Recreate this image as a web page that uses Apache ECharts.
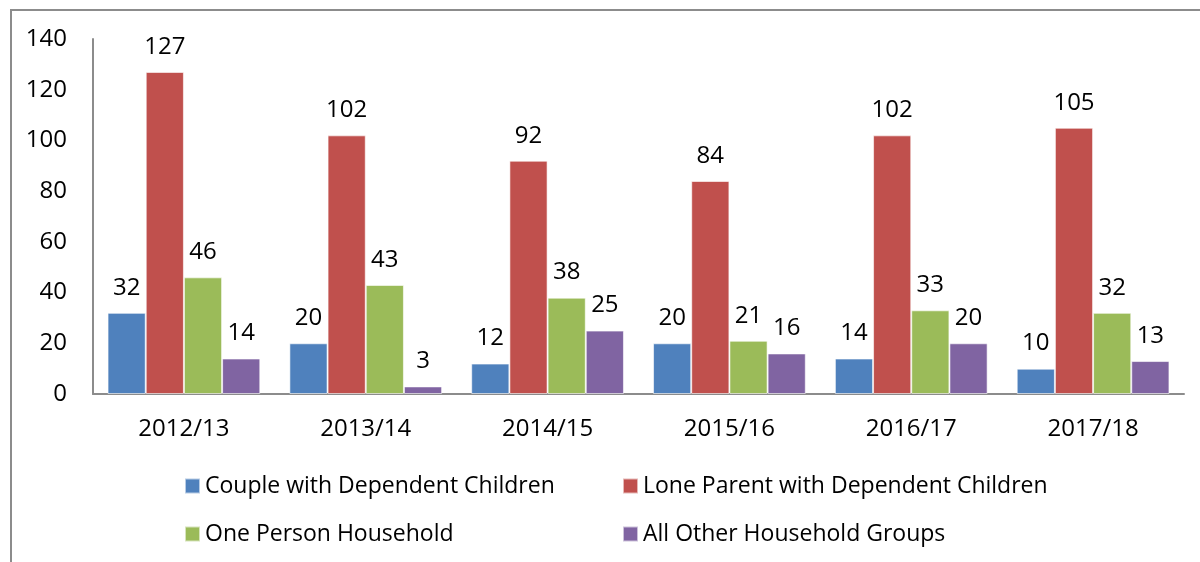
<!DOCTYPE html>
<html>
<head>
<meta charset="utf-8">
<script src="https://cdn.jsdelivr.net/npm/echarts@6/dist/echarts.min.js"></script>
<style>
html,body{margin:0;padding:0;background:#fff;overflow:hidden;}
#frame{position:absolute;left:10px;top:9px;width:1250px;height:600px;border-left:2px solid #8c8c8c;border-top:2px solid #8c8c8c;}
#chart{position:absolute;left:0;top:0;width:1200px;height:562px;}
</style>
</head>
<body>
<div id="frame"></div>
<div id="chart"></div>
<script>
const categories = ['2012/13', '2013/14', '2014/15', '2015/16', '2016/17', '2017/18'];
const seriesNames = ['Couple with Dependent Children', 'Lone Parent with Dependent Children', 'One Person Household', 'All Other Household Groups'];
const couple = [32, 20, 12, 20, 14, 10];
const loneParent = [127, 102, 92, 84, 102, 105];
const onePerson = [46, 43, 38, 21, 33, 32];
const allOther = [14, 3, 25, 16, 20, 13];
const colors = ['#4F81BD', '#C0504D', '#9BBB59', '#8064A2'];

const FONT = 'Open Sans';
const FS_NUM = 24;
const FS_LEG = 23;
const values = [couple, loneParent, onePerson, allOther];

const chart = echarts.init(document.getElementById('chart'), null, {renderer: 'canvas'});
const legendText = {fontFamily: FONT, fontSize: FS_LEG, color: '#000', lineHeight: 30, padding: [0, 0, 0, 0]};
chart.setOption({
  animation: false,
  textStyle: {fontFamily: FONT},
  grid: {left: 93, right: 16, top: 39, bottom: 168, containLabel: false},
  legend: [
    {
      data: [seriesNames[0], seriesNames[2]],
      orient: 'vertical', left: 179, top: 466,
      itemWidth: 15, itemHeight: 15, itemGap: 18,
      icon: 'rect',
      textStyle: legendText
    },
    {
      data: [seriesNames[1], seriesNames[3]],
      orient: 'vertical', left: 617, top: 466,
      itemWidth: 15, itemHeight: 15, itemGap: 18,
      icon: 'rect',
      textStyle: legendText
    }
  ],
  xAxis: {
    type: 'category',
    data: categories,
    axisLine: {lineStyle: {color: '#8c8c8c', width: 2}},
    axisTick: {show: false},
    axisLabel: {fontFamily: FONT, fontSize: FS_NUM, color: '#000', margin: 23}
  },
  yAxis: {
    type: 'value',
    min: 0, max: 140, interval: 20,
    axisLine: {show: true, lineStyle: {color: '#8c8c8c', width: 2}},
    axisTick: {show: false},
    splitLine: {show: false},
    axisLabel: {fontFamily: FONT, fontSize: FS_NUM, color: '#000', margin: 26}
  },
  series: seriesNames.map((name, i) => ({
    name: name,
    type: 'bar',
    data: values[i],
    barGap: '0%',
    barCategoryGap: '16%',
    itemStyle: {color: colors[i], borderColor: 'rgba(255,255,255,0.6)', borderWidth: 1},
    label: {show: true, position: 'top', distance: 13, fontFamily: FONT, fontSize: FS_NUM, color: '#000'}
  }))
});
</script>
</body>
</html>
